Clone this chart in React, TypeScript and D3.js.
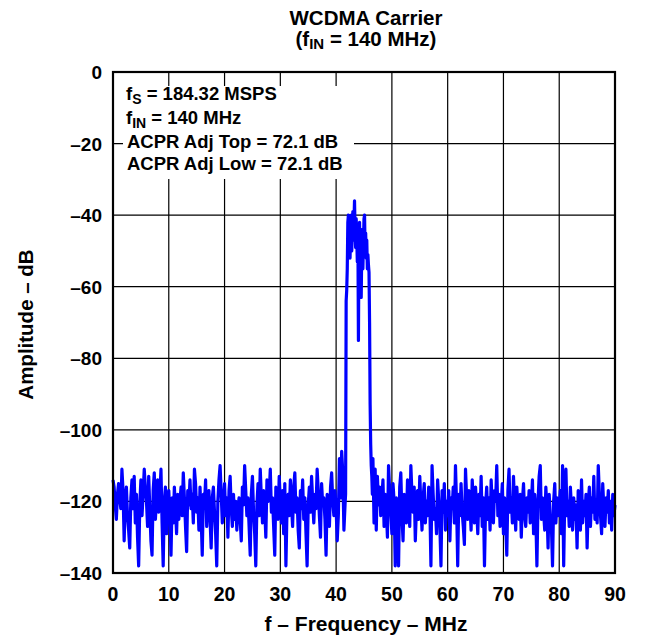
import React from 'react';
import * as d3 from 'd3';

// ---- Data ----
const xTicks = [0, 10, 20, 30, 40, 50, 60, 70, 80, 90];
const yTicks = [0, -20, -40, -60, -80, -100, -120, -140];

// Noise floor below the carrier: 0.0 .. 41.6 MHz, 0.2 MHz step
const lowStart = 0.0;
const lowStep = 0.2;
const lowNoise = [
  -114, -116, -121, -125, -118, -115, -119, -122, -111, -117,
  -131, -120, -116, -124, -128, -133, -119, -114, -122, -113,
  -126, -118, -130, -138, -121, -114, -124, -118, -111, -116,
  -120, -127, -113, -122, -131, -135, -117, -112, -125, -119,
  -114, -123, -118, -111, -126, -138, -120, -116, -129, -121,
  -117, -124, -135, -119, -126, -116, -122, -129, -118, -125,
  -120, -116, -124, -112, -119, -127, -134, -117, -121, -114,
  -122, -118, -126, -111, -115, -123, -119, -128, -116, -124,
  -135, -118, -121, -114, -127, -120, -117, -125, -133, -119,
  -116, -123, -129, -138, -120, -114, -110, -118, -126, -121,
  -115, -124, -119, -130, -117, -113, -122, -127, -118, -125,
  -120, -128, -122, -119, -125, -131, -116, -121, -110, -117,
  -124, -119, -127, -135, -118, -113, -123, -129, -138, -121,
  -115, -124, -111, -119, -126, -117, -122, -130, -114, -120,
  -118, -111, -123, -119, -127, -135, -116, -121, -125, -113,
  -120, -126, -117, -129, -115, -138, -122, -118, -124, -114,
  -121, -127, -116, -112, -123, -119, -128, -133, -117, -122,
  -114, -125, -119, -129, -138, -121, -116, -123, -113, -120,
  -126, -118, -122, -111, -117, -124, -130, -115, -121, -119,
  -125, -135, -118, -122, -127, -116, -112, -120, -124, -117,
  -122, -131, -124, -108, -119, -106, -112, -128, -121,
];

// WCDMA carrier: 41.7 .. 46.5 MHz, 0.1 MHz step
const carrierStart = 41.7;
const carrierStep = 0.1;
const carrier = [
  -118, -64, -61, -55, -42, -40, -48, -41, -52, -44,
  -40, -50, -45, -39, -47, -42, -36, -44, -49, -41,
  -46, -53, -43, -75, -47, -42, -51, -46, -63, -49,
  -44, -55, -48, -41, -40, -50, -45, -52, -47, -55,
  -51, -54, -56, -70, -93, -104, -110, -113, -118,
];

// Noise floor above the carrier: 46.6 .. 90.0 MHz, 0.2 MHz step
const highStart = 46.6;
const highStep = 0.2;
const highNoise = [
  -108, -126, -111, -128, -113, -121, -116, -124, -119, -114,
  -127, -118, -122, -130, -110, -117, -123, -129, -115, -120,
  -138, -119, -125, -138, -116, -112, -124, -131, -118, -121,
  -126, -114, -120, -127, -110, -118, -123, -116, -131, -122,
  -117, -125, -113, -121, -128, -119, -115, -126, -120, -124,
  -116, -121, -138, -110, -118, -125, -122, -129, -114, -120,
  -127, -138, -117, -123, -115, -128, -120, -124, -117, -131,
  -119, -122, -116, -126, -110, -121, -138, -118, -124, -115,
  -123, -127, -132, -111, -119, -125, -117, -121, -128, -114,
  -120, -126, -116, -122, -129, -118, -124, -113, -127, -119,
  -138, -121, -116, -125, -119, -128, -114, -122, -126, -117,
  -120, -110, -124, -118, -127, -121, -115, -129, -119, -126,
  -135, -117, -111, -123, -119, -126, -113, -121, -128, -116,
  -122, -125, -118, -130, -120, -115, -124, -127, -119, -123,
  -117, -126, -121, -114, -129, -118, -124, -138, -120, -113,
  -110, -125, -119, -123, -128, -116, -122, -133, -118, -124,
  -127, -138, -120, -115, -126, -119, -124, -121, -117, -129,
  -110, -138, -118, -111, -124, -120, -127, -116, -122, -128,
  -119, -125, -121, -133, -117, -123, -128, -114, -126, -120,
  -124, -118, -133, -121, -116, -127, -119, -123, -113, -125,
  -120, -126, -110, -118, -124, -129, -115, -122, -127, -119,
  -123, -117, -126, -120, -128, -118, -124, -121,
];

const titleLine1 = 'WCDMA Carrier';
const xLabel = 'f \u2013 Frequency \u2013 MHz';
const yLabel = 'Amplitude \u2013 dB';

type Pt = [number, number];
const segment = (start: number, step: number, vals: number[]): Pt[] =>
  vals.map((v, i) => [start + i * step, v] as Pt);

const spectrum: Pt[] = [
  ...segment(lowStart, lowStep, lowNoise),
  ...segment(carrierStart, carrierStep, carrier),
  ...segment(highStart, highStep, highNoise),
];

// ---- Layout ----
const W = 670;
const H = 638;
const L = 113;
const R = 615;
const T = 72;
const B = 573;
const FONT = '"Liberation Sans", Arial, Helvetica, sans-serif';

export default function App() {
  const x = d3.scaleLinear().domain([0, 90]).range([L, R]);
  const y = d3.scaleLinear().domain([-140, 0]).range([B, T]);
  const line = d3
    .line<Pt>()
    .x((d) => x(d[0]))
    .y((d) => y(d[1]));

  const cx = (L + R) / 2;

  return (
    <svg
      width={W}
      height={H}
      style={{ position: 'absolute', left: 0, top: 0, background: '#fff' }}
      fontFamily={FONT}
      fontWeight="bold"
    >
      <rect x={0} y={0} width={W} height={H} fill="#fff" />
      {/* grid */}
      {xTicks.slice(1, -1).map((t) => (
        <line key={'gx' + t} x1={x(t)} x2={x(t)} y1={T} y2={B} stroke="#000" strokeWidth={1.2} />
      ))}
      {yTicks.slice(1, -1).map((t) => (
        <line key={'gy' + t} x1={L} x2={R} y1={y(t)} y2={y(t)} stroke="#000" strokeWidth={1.2} />
      ))}
      {/* annotation background */}
      <rect x={123} y={86} width={231} height={93} fill="#fff" />
      {/* spectrum */}
      <path
        d={line(spectrum) || ''}
        fill="none"
        stroke="#0000ff"
        strokeWidth={3.2}
        strokeLinejoin="round"
      />
      {/* frame */}
      <rect x={L} y={T} width={R - L} height={B - T} fill="none" stroke="#000" strokeWidth={2.2} />

      {/* annotation */}
      <g fontSize={18.5} fill="#000">
        <text x={126} y={100}>
          f<tspan fontSize={14} dy={4}>S</tspan>
          <tspan dy={-4}> = 184.32 MSPS</tspan>
        </text>
        <text x={126} y={124}>
          f<tspan fontSize={14} dy={4}>IN</tspan>
          <tspan dy={-4}> = 140 MHz</tspan>
        </text>
        <text x={127} y={148}>ACPR Adj Top = 72.1 dB</text>
        <text x={127} y={170}>ACPR Adj Low = 72.1 dB</text>
      </g>

      {/* title */}
      <g fontSize={20.5} textAnchor="middle" fill="#000">
        <text x={366} y={25}>{titleLine1}</text>
        <text x={366} y={46}>
          (f<tspan fontSize={15} dy={3}>IN</tspan>
          <tspan dy={-3}> = 140 MHz)</tspan>
        </text>
      </g>

      {/* y ticks */}
      <g fontSize={19} textAnchor="end" fill="#000">
        {yTicks.map((t) => (
          <text key={'yt' + t} x={102} y={y(t) + 7}>
            {t === 0 ? '0' : '\u2013' + Math.abs(t)}
          </text>
        ))}
      </g>
      {/* x ticks */}
      <g fontSize={19.5} textAnchor="middle" fill="#000">
        {xTicks.map((t) => (
          <text key={'xt' + t} x={x(t)} y={601}>
            {t}
          </text>
        ))}
      </g>
      {/* axis labels */}
      <text x={cx + 2} y={631} fontSize={21} textAnchor="middle" fill="#000">
        {xLabel}
      </text>
      <text
        transform={`translate(33, ${(T + B) / 2 + 2}) rotate(-90)`}
        fontSize={20.5}
        textAnchor="middle"
        fill="#000"
      >
        {yLabel}
      </text>
    </svg>
  );
}
